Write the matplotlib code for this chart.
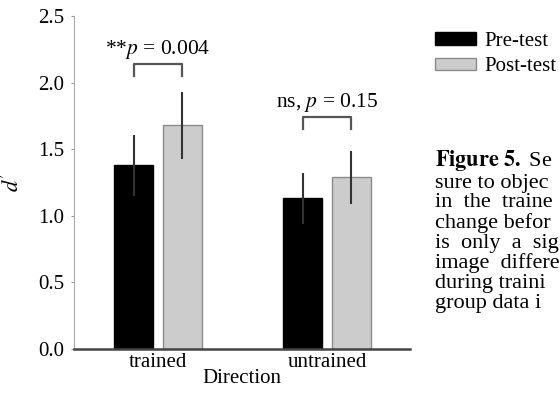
import numpy as np
import matplotlib
matplotlib.use("Agg")
import matplotlib.pyplot as plt

plt.rcParams['font.family'] = ['Liberation Serif', 'DejaVu Serif']
plt.rcParams['mathtext.fontset'] = 'stix'

directions = ['trained', 'untrained']
pre = [1.38, 1.13]
post = [1.68, 1.29]
pre_err = [0.23, 0.19]
post_err = [0.25, 0.20]
p_labels = ['**$p$ = 0.004', 'ns, $p$ = 0.15']
bracket_top = [2.14, 1.74]
# caption is cut off at the right edge in the original
caption = [r'$\mathbf{Figure\ 5.}$ Se', 'sure to objec', 'in  the  traine', 'change befor',
           'is  only  a  sig', 'image  differe', 'during traini',
           'group data i']

fig = plt.figure(figsize=(5.6, 4), dpi=100)
ax = fig.add_axes([74/560, 51/400, 336/560, 333/400])

x = np.arange(len(directions))
off = 0.143
w = 0.23
b1 = ax.bar(x - off, pre, w, color='black', edgecolor='black', label='Pre-test', zorder=2)
b2 = ax.bar(x + off, post, w, color='#cccccc', edgecolor='#8a8a8a', linewidth=1, label='Post-test', zorder=2)
ax.errorbar(x - off, pre, yerr=pre_err, fmt='none', ecolor='#333333', elinewidth=1.5, capsize=0, zorder=3)
ax.errorbar(x + off, post, yerr=post_err, fmt='none', ecolor='#333333', elinewidth=1.5, capsize=0, zorder=3)

# significance brackets
for i in range(len(directions)):
    top = bracket_top[i]
    ax.plot([x[i] - off, x[i] - off, x[i] + off, x[i] + off],
            [top - 0.09, top, top, top - 0.09], color='#555555', lw=1.6)
    ax.text(x[i], top + 0.11, p_labels[i], ha='center', va='center', fontsize=15.5)

ax.set_xlim(-0.497, 1.491)
ax.set_ylim(0, 2.5)
ax.set_xticks(x)
ax.set_xticklabels(directions, fontsize=15)
ax.set_yticks([0, 0.5, 1.0, 1.5, 2.0, 2.5])
ax.set_yticklabels(['0.0', '0.5', '1.0', '1.5', '2.0', '2.5'], fontsize=15)
ax.tick_params(axis='x', length=0, pad=3)
ax.tick_params(axis='y', length=2, color='#999999', pad=5)
ax.set_xlabel('Direction', fontsize=15, labelpad=-2)
ax.set_ylabel("$d'$", fontsize=16, labelpad=10)
ax.spines['top'].set_visible(False)
ax.spines['right'].set_visible(False)
ax.spines['left'].set_color('#aaaaaa')
ax.spines['bottom'].set_color('#444444')
ax.spines['bottom'].set_linewidth(1.8)

fig.legend(handles=[b1, b2], loc='upper left', bbox_to_anchor=(435/560, 1 - 32/400),
           frameon=False, fontsize=15, borderpad=0, borderaxespad=0,
           handlelength=1.95, handleheight=0.55, handletextpad=0.4, labelspacing=0.3)

fig.text(435/560, 1 - 148/400, '\n'.join(caption), fontsize=16, va='top',
         linespacing=1.05)

fig.savefig('out.png', dpi=100)
